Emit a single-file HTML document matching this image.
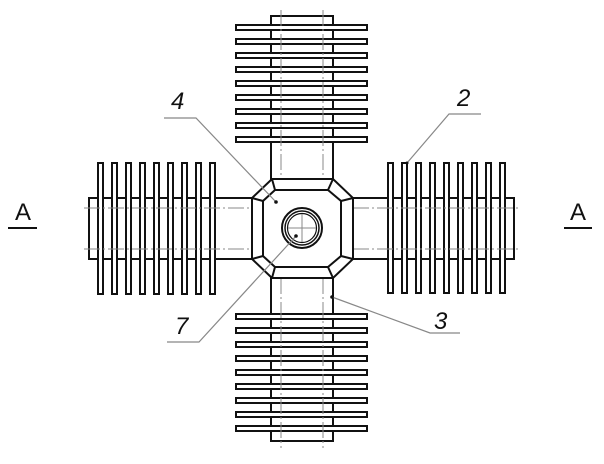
<!DOCTYPE html>
<html><head><style>html,body{margin:0;padding:0;background:#fff;}svg{display:block}</style></head>
<body>
<svg width="604" height="464" viewBox="0 0 604 464" xmlns="http://www.w3.org/2000/svg">
<g fill="none" stroke="#111" stroke-width="2">
<rect x="271" y="16" width="62" height="163" fill="#fff"/>
<rect x="271" y="278" width="62" height="163" fill="#fff"/>
<rect x="89" y="198" width="163" height="61" fill="#fff"/>
<rect x="353" y="198" width="161" height="61" fill="#fff"/>
</g>
<g fill="#fff" stroke="#111" stroke-width="2">
<rect x="236" y="25" width="131" height="5"/><rect x="236" y="39" width="131" height="5"/><rect x="236" y="53" width="131" height="5"/><rect x="236" y="67" width="131" height="5"/><rect x="236" y="81" width="131" height="5"/><rect x="236" y="95" width="131" height="5"/><rect x="236" y="109" width="131" height="5"/><rect x="236" y="123" width="131" height="5"/><rect x="236" y="137" width="131" height="5"/>
<rect x="236" y="314" width="131" height="5"/><rect x="236" y="328" width="131" height="5"/><rect x="236" y="342" width="131" height="5"/><rect x="236" y="356" width="131" height="5"/><rect x="236" y="370" width="131" height="5"/><rect x="236" y="384" width="131" height="5"/><rect x="236" y="398" width="131" height="5"/><rect x="236" y="412" width="131" height="5"/><rect x="236" y="426" width="131" height="5"/>
<rect x="98" y="163" width="5" height="131"/><rect x="112" y="163" width="5" height="131"/><rect x="126" y="163" width="5" height="131"/><rect x="140" y="163" width="5" height="131"/><rect x="154" y="163" width="5" height="131"/><rect x="168" y="163" width="5" height="131"/><rect x="182" y="163" width="5" height="131"/><rect x="196" y="163" width="5" height="131"/><rect x="210" y="163" width="5" height="131"/>
<rect x="388" y="163" width="5" height="130"/><rect x="402" y="163" width="5" height="130"/><rect x="416" y="163" width="5" height="130"/><rect x="430" y="163" width="5" height="130"/><rect x="444" y="163" width="5" height="130"/><rect x="458" y="163" width="5" height="130"/><rect x="472" y="163" width="5" height="130"/><rect x="486" y="163" width="5" height="130"/><rect x="500" y="163" width="5" height="130"/>
</g>
<g stroke="#888" stroke-width="1" stroke-dasharray="16,3,2,3" fill="none">
<line x1="281" y1="10" x2="281" y2="179"/><line x1="323" y1="10" x2="323" y2="179"/>
<line x1="281" y1="278" x2="281" y2="448"/><line x1="323" y1="278" x2="323" y2="448"/>
<line x1="84" y1="208" x2="252" y2="208"/><line x1="84" y1="249" x2="252" y2="249"/>
<line x1="353" y1="208" x2="520" y2="208"/><line x1="353" y1="249" x2="520" y2="249"/>
</g>
<g fill="none" stroke="#111" stroke-width="2">
<polygon points="272,179 333,179 353,198 353,259 333,278 272,278 252,259 252,198" fill="#fff"/>
<polygon points="275,190 328,190 341,201 341,256 328,267 275,267 263,256 263,201"/>
<line x1="272" y1="179" x2="275" y2="190"/><line x1="333" y1="179" x2="328" y2="190"/>
<line x1="353" y1="198" x2="341" y2="201"/><line x1="353" y1="259" x2="341" y2="256"/>
<line x1="333" y1="278" x2="328" y2="267"/><line x1="272" y1="278" x2="275" y2="267"/>
<line x1="252" y1="259" x2="263" y2="256"/><line x1="252" y1="198" x2="263" y2="201"/>
<circle cx="302" cy="228" r="20"/><circle cx="302" cy="228" r="17" stroke-width="1.5"/><circle cx="302" cy="228" r="14.5" stroke-width="1.2"/>
</g>
<g stroke="#888" stroke-width="1" fill="none">
<line x1="302" y1="214" x2="302" y2="242"/><line x1="288" y1="228" x2="316" y2="228"/>
</g>
<g stroke="#888" stroke-width="1.2" fill="none">
<polyline points="164,118 196,118 276,202"/>
<polyline points="481,114 449,114 407,163"/>
<polyline points="167,342 199,342 296,236"/>
<polyline points="460,333 430,333 332,297"/>
</g>
<g fill="#111"><circle cx="276" cy="202" r="1.8"/><circle cx="296" cy="236" r="1.8"/><circle cx="332" cy="297" r="1.8"/><circle cx="407" cy="163" r="1.5"/></g>
<g font-family="Liberation Sans, sans-serif" font-size="24" font-style="italic" fill="#111">
<text x="171" y="109">4</text>
<text x="457" y="106">2</text>
<text x="175" y="334">7</text>
<text x="434" y="329">3</text>
</g>
<g font-family="Liberation Sans, sans-serif" font-size="24" fill="#111">
<text x="15" y="220">A</text><text x="570" y="220">A</text>
</g>
<g stroke="#111" stroke-width="2"><line x1="8" y1="228" x2="37" y2="228"/><line x1="564" y1="228" x2="592" y2="228"/></g>
</svg>
</body></html>
